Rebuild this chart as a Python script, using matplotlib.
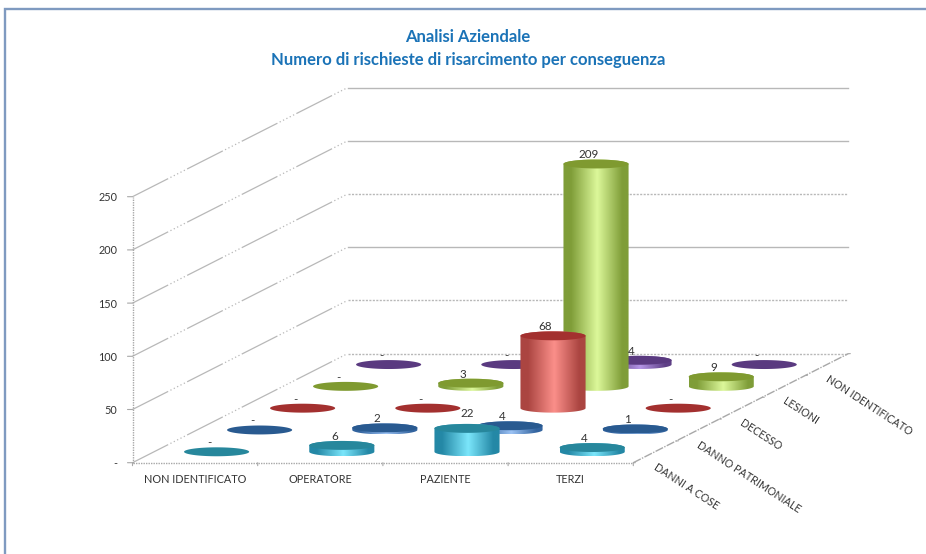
import numpy as np
import matplotlib
matplotlib.use("Agg")
import matplotlib.pyplot as plt
from matplotlib.colors import LinearSegmentedColormap
from matplotlib.lines import Line2D
from matplotlib.patches import Polygon

plt.rcParams["font.family"] = ["Lato", "DejaVu Sans"]

# Chart data
categories = ["NON IDENTIFICATO", "OPERATORE", "PAZIENTE", "TERZI"]
series_names = ["DANNI A COSE", "DANNO PATRIMONIALE", "DECESSO", "LESIONI", "NON IDENTIFICATO"]
danni_a_cose = [0, 6, 22, 4]
danno_patrimoniale = [0, 2, 4, 1]
decesso = [0, 0, 68, 0]
lesioni = [0, 3, 209, 9]
non_identificato = [0, 0, 4, 0]
value_ticks = [0, 50, 100, 150, 200, 250]
title_lines = ["Analisi Aziendale", "Numero di rischieste di risarcimento per conseguenza"]

all_series = [danni_a_cose, danno_patrimoniale, decesso, lesioni, non_identificato]

# (edge, highlight, top face) shades per series
palette = [
    ("#2488a6", "#7be6fb", "#27879c"),
    ("#33649f", "#9cc3f5", "#295a90"),
    ("#ab4541", "#fb8f8a", "#a3302f"),
    ("#7f9d38", "#dcf89a", "#7f9a30"),
    ("#5f4086", "#b596e6", "#5a3a80"),
]

# Oblique projection: one step of depth moves right and up in data units
DEPTH_X = 0.3435
DEPTH_Y = 20.5
RADIUS_X = 0.26
RADIUS_Y = 4.2

GRID = "#b8b8b8"
AXIS = "#a8a8a8"
TEXT = "#333333"
n_cat = len(categories)
n_ser = len(all_series)


def project(cat, depth, value):
    return cat + depth * DEPTH_X, value + depth * DEPTH_Y


fig = plt.figure(figsize=(9.26, 5.54), dpi=100, facecolor="white")
ax = fig.add_axes([0, 0, 1, 1])
xlim = (-132.5 / 125.2, (926 - 132.5) / 125.2)
ylim = ((462.7 - 554) / 1.064, 462.7 / 1.064)
ax.axis("off")

# Back wall gridlines and matching lines along the side wall
back_styles = ["-", "-", (0, (1.5, 1)), "-", (0, (1.5, 1)), (0, (1.5, 1))]
side_style = (0, (32, 2, 1, 2, 1, 2, 1, 2, 1, 2, 1, 2))
for v, back in zip(value_ticks[::-1], back_styles):
    x0, y0 = project(0, n_ser, v)
    x1, y1 = project(n_cat, n_ser, v)
    ax.plot([x0, x1], [y0, y1], color=GRID, lw=1.0, ls=back, zorder=1)
    xa, ya = project(0, 0, v)
    ax.plot([xa, x0], [ya, y0], color=GRID, lw=0.9, ls=side_style, zorder=1)

# Value axis with ticks and labels
ax.plot([0, 0], [0, value_ticks[-1]], color=AXIS, lw=1.0, ls=(0, (1, 0.8)), zorder=2)
for v in value_ticks:
    ax.annotate("", xy=(0, v), xytext=(-5, 0), textcoords="offset pixels",
                arrowprops=dict(arrowstyle="-", color=AXIS, lw=0.8, shrinkA=0, shrinkB=0))
    ax.annotate(f"{v}" if v else "-", xy=(0, v), xytext=(-15, -1), textcoords="offset pixels",
                ha="right", va="center", fontsize=7.8, color=TEXT)

# Floor edges with ticks and labels
ax.plot([0, n_cat], [0, 0], color=AXIS, lw=1.0, ls=(0, (1, 0.8)), zorder=2)
x_end, y_end = project(n_cat, n_ser, 0)
ax.plot([n_cat, x_end], [0, y_end], color=AXIS, lw=1.0, ls=(0, (6, 1, 1, 1)), zorder=2)
for c in range(n_cat + 1):
    ax.annotate("", xy=(c, 0), xytext=(0, -3), textcoords="offset pixels",
                arrowprops=dict(arrowstyle="-", color=AXIS, lw=0.8, shrinkA=0, shrinkB=0))
for s in range(n_ser + 1):
    xs, ys = project(n_cat, s, 0)
    ax.annotate("", xy=(xs, ys), xytext=(2, 0), textcoords="offset pixels",
                arrowprops=dict(arrowstyle="-", color=AXIS, lw=0.8, shrinkA=0, shrinkB=0))
for c, name in enumerate(categories):
    ax.annotate(name, xy=(c + 0.5, 0), xytext=(0, -17), textcoords="offset pixels",
                ha="center", va="center", fontsize=7.8, color=TEXT)
for s, name in enumerate(series_names):
    xs, ys = project(n_cat, s + 0.5, 0)
    ax.annotate(name, xy=(xs, ys), xytext=(0, -14), textcoords="offset pixels",
                ha="left", va="center", rotation=-33, rotation_mode="anchor",
                fontsize=7.7, color=TEXT)

# Label placement relative to the top of each cylinder; the wide "22" sits apart
label_shift = {(2, 0): (0, 15)}

theta = np.linspace(0, 2 * np.pi, 121)
lower = np.linspace(np.pi, 2 * np.pi, 61)
upper = np.linspace(0, np.pi, 61)
profile = np.linspace(0, 1, 256)

# Back row first, so nearer cylinders cover the ones behind them
z = 10
for s in range(n_ser - 1, -1, -1):
    edge, light, top_face = palette[s]
    cmap = LinearSegmentedColormap.from_list(
        f"body{s}", [(0, edge), (0.12, edge), (0.52, light), (0.9, edge), (1, edge)])
    for c in range(n_cat):
        value = all_series[s][c]
        cx, cy = project(c + 0.5, s + 0.5, 0)
        if value > 0:
            outline = np.column_stack([
                np.r_[cx + RADIUS_X * np.cos(lower), cx + RADIUS_X * np.cos(upper)],
                np.r_[cy + RADIUS_Y * np.sin(lower), cy + value + RADIUS_Y * np.sin(upper)],
            ])
            clip = Polygon(outline, closed=True, facecolor="none", edgecolor="none",
                           transform=ax.transData)
            ax.add_patch(clip)
            img = ax.imshow(profile[None, :], cmap=cmap, aspect="auto", zorder=z,
                            extent=(cx - RADIUS_X, cx + RADIUS_X,
                                    cy - RADIUS_Y, cy + value + RADIUS_Y),
                            interpolation="bilinear")
            img.set_clip_path(clip)
        top = np.column_stack([cx + RADIUS_X * np.cos(theta),
                               cy + value + RADIUS_Y * np.sin(theta)])
        ax.add_patch(Polygon(top, closed=True, facecolor=top_face, edgecolor="none",
                             zorder=z + 0.5))
        shift = label_shift.get((c, s), (-7.5, 9))
        ax.annotate(f"{value}" if value else "-", xy=(cx, cy + value), xytext=shift,
                    textcoords="offset pixels", ha="center", va="center",
                    fontsize=8.4, color=TEXT, zorder=100)
        z += 1

ax.set_xlim(*xlim)
ax.set_ylim(*ylim)

# Title block
for y_px, line in zip((37.5, 60.5), title_lines):
    fig.text(468 / 926, 1 - y_px / 554, line, ha="center", va="center",
             fontsize=12.0, fontweight="bold", color="#1b73b7")

# Frame along the top and left of the sheet
fig.add_artist(Line2D([5 / 926, 5 / 926, 1], [0, 1 - 8.5 / 554, 1 - 8.5 / 554],
                      color="#7f9ac0", lw=1.7, solid_joinstyle="miter"))

fig.savefig("out.png", dpi=100)
